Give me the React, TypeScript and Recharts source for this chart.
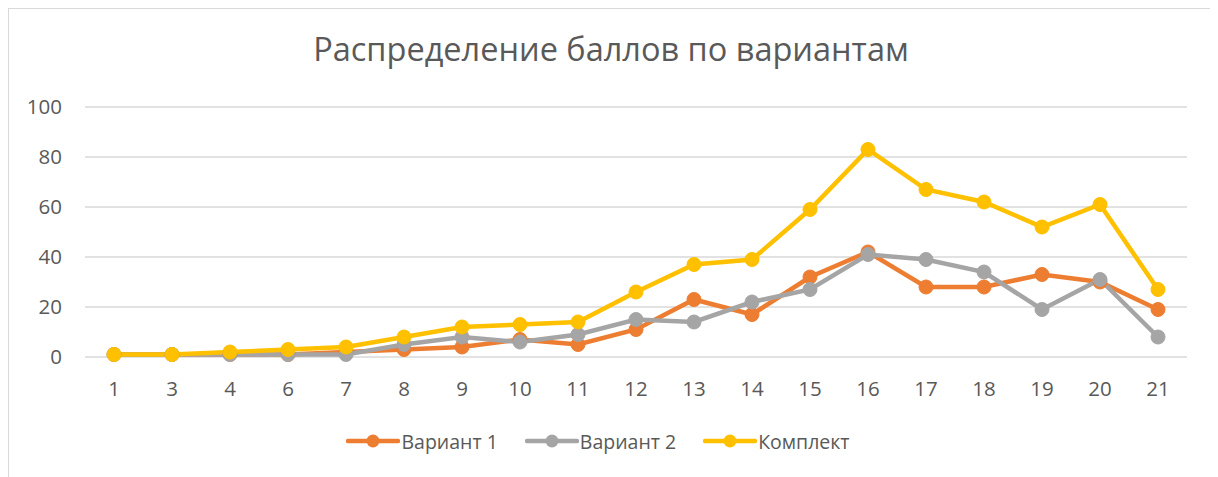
import React from 'react';
import { LineChart, Line, XAxis, YAxis, CartesianGrid, Legend } from 'recharts';

const categories = ['1', '3', '4', '6', '7', '8', '9', '10', '11', '12', '13', '14', '15', '16', '17', '18', '19', '20', '21'];
const variant1 = [1, 1, 1, 1, 2, 3, 4, 7, 5, 11, 23, 17, 32, 42, 28, 28, 33, 30, 19];
const variant2 = [1, 1, 1, 1, 1, 5, 8, 6, 9, 15, 14, 22, 27, 41, 39, 34, 19, 31, 8];
const komplekt = [1, 1, 2, 3, 4, 8, 12, 13, 14, 26, 37, 39, 59, 83, 67, 62, 52, 61, 27];
const yTicks = [0, 20, 40, 60, 80, 100];

const seriesNames = ['Вариант 1', 'Вариант 2', 'Комплект'];
const colors = ['#ED7D31', '#A5A5A5', '#FFC000'];

const data = categories.map((c, i) => ({
  cat: c,
  v1: variant1[i],
  v2: variant2[i],
  k: komplekt[i],
}));

const FONT = "'Open Sans', sans-serif";
const TEXT = '#595959';

const LegendContent = (props: any) => {
  const payload = props.payload || [];
  return (
    <div style={{ display: 'flex', justifyContent: 'center', alignItems: 'center', fontFamily: FONT, fontSize: 19.5, color: TEXT, height: 24 }}>
      {payload.map((p: any, i: number) => (
        <div key={i} style={{ display: 'flex', alignItems: 'center', marginLeft: i === 0 ? 0 : 27 }}>
          <svg width={54} height={16} style={{ marginRight: 1 }}>
            <line x1={2} y1={8} x2={52} y2={8} stroke={p.color} strokeWidth={4.5} strokeLinecap="round" />
            <circle cx={27} cy={8} r={6.5} fill={p.color} />
          </svg>
          <span>{p.value}</span>
        </div>
      ))}
    </div>
  );
};

export default function App() {
  return (
    <div style={{ width: 1204, height: 470, border: '1px solid #d9d9d9', borderBottom: 'none', position: 'relative', background: '#fff', fontFamily: FONT }}>
      <div style={{ position: 'absolute', top: 21, left: 0, width: 1204, textAlign: 'center', fontSize: 32.5, lineHeight: '38px', color: TEXT, fontFamily: FONT }}>
        Распределение баллов по вариантам
      </div>
      <LineChart width={1204} height={470} data={data} margin={{ top: 98, right: 26, left: 0, bottom: 26 }}>
        <CartesianGrid horizontal={true} vertical={false} stroke="#d9d9d9" strokeWidth={1.3} />
        <XAxis dataKey="cat" axisLine={false} tickLine={false} tickSize={0} tickMargin={24} height={72}
          padding={{ left: 29, right: 29 }}
          tick={{ fill: TEXT, fontSize: 20.5, fontFamily: FONT }} interval={0} />
        <YAxis domain={[0, 100]} ticks={yTicks} axisLine={false} tickLine={false} tickSize={0} tickMargin={23} width={76}
          tick={{ fill: TEXT, fontSize: 20.5, fontFamily: FONT }} />
        <Legend verticalAlign="bottom" content={<LegendContent />} />
        <Line type="linear" dataKey="v1" name={seriesNames[0]} stroke={colors[0]} strokeWidth={4.5}
          dot={{ r: 7, fill: colors[0], stroke: colors[0], strokeWidth: 1 }} isAnimationActive={false} />
        <Line type="linear" dataKey="v2" name={seriesNames[1]} stroke={colors[1]} strokeWidth={4.5}
          dot={{ r: 7, fill: colors[1], stroke: colors[1], strokeWidth: 1 }} isAnimationActive={false} />
        <Line type="linear" dataKey="k" name={seriesNames[2]} stroke={colors[2]} strokeWidth={4.5}
          dot={{ r: 7, fill: colors[2], stroke: colors[2], strokeWidth: 1 }} isAnimationActive={false} />
      </LineChart>
    </div>
  );
}
